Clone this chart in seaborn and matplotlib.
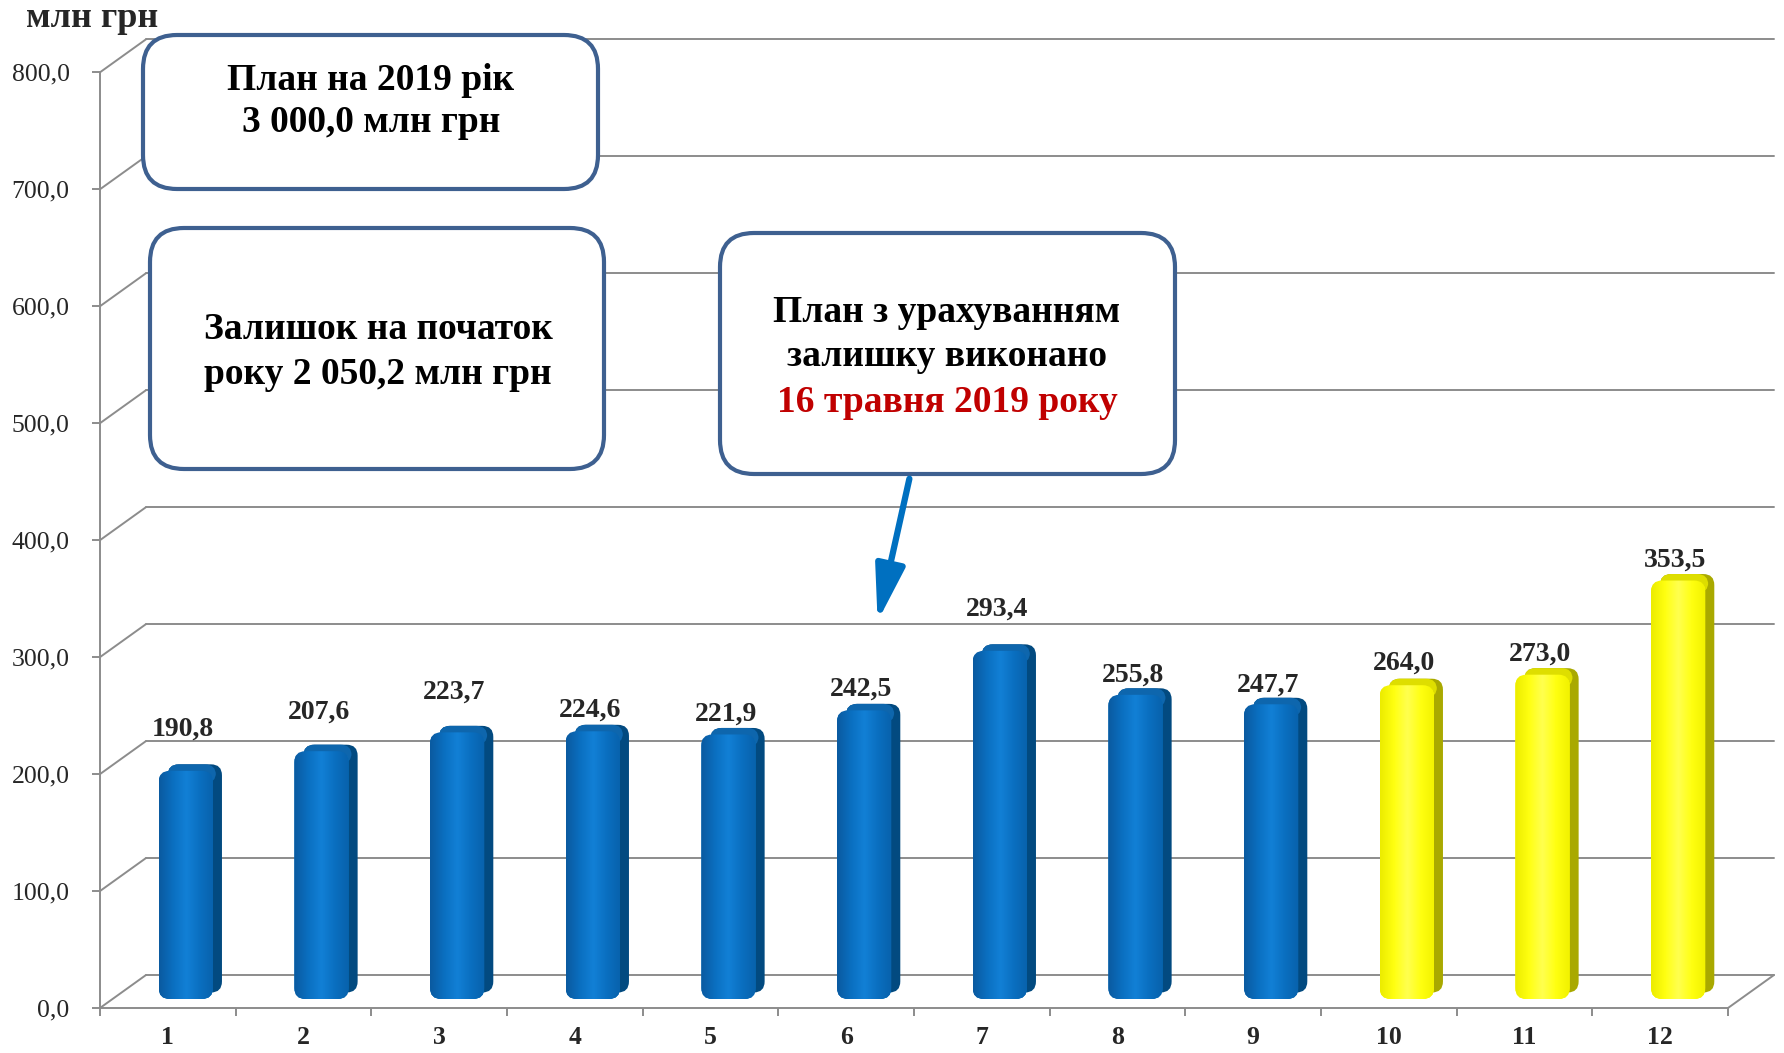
# Monthly revenue bar chart, 3D-like Excel look, built with seaborn + matplotlib
import matplotlib as mpl
import matplotlib.pyplot as plt
import matplotlib.transforms as mtransforms
from matplotlib.patches import FancyBboxPatch, FancyArrowPatch
from matplotlib.lines import Line2D
from matplotlib.colors import LinearSegmentedColormap
import numpy as np
import pandas as pd
import seaborn as sns

# Data
months = ['1', '2', '3', '4', '5', '6', '7', '8', '9', '10', '11', '12']
values = [190.8, 207.6, 223.7, 224.6, 221.9, 242.5, 293.4, 255.8, 247.7, 264.0, 273.0, 353.5]
kinds = ['fact'] * 9 + ['forecast'] * 3
yTicks = [0, 100, 200, 300, 400, 500, 600, 700, 800]
unitLabel = 'млн грн'
planLines = ['План на 2019 рік', '3 000,0 млн грн']
restLines = ['Залишок на початок', 'року 2 050,2 млн грн']
doneLines = ['План з урахуванням', 'залишку виконано']
doneDate = '16 травня 2019 року'

# Layout / style
labelLift = [40, 38, 39, 25, 25, 25, 40, 24, 24, 26, 25, 25]  # points above value
gridColor = '#8c8c8c'
boxEdge = '#3e6090'
W, H = 1784, 1053


def fmt(v):
    return ('%.1f' % v).replace('.', ',')


sns.set_style('white')
plt.rcParams['font.family'] = ['Liberation Serif', 'DejaVu Serif']

fig = plt.figure(figsize=(W / 100, H / 100), dpi=100)
ax = fig.add_axes([100 / W, 45 / H, 1628 / W, 935.7 / H])

df = pd.DataFrame({'month': months, 'value': values, 'kind': kinds})
sns.barplot(data=df, x='month', y='value', hue='kind', order=months,
            palette={'fact': '#0070C0', 'forecast': '#FFFF00'},
            dodge=False, width=0.4, saturation=1, legend=False, ax=ax, zorder=3)

ax.set_xlim(-0.5, 11.5)
ax.set_ylim(0, 800)
ax.set_autoscale_on(False)
ax.set_xlabel('')
ax.set_ylabel('')
sns.despine(ax=ax)
for s in ['left', 'bottom']:
    ax.spines[s].set_color(gridColor)
    ax.spines[s].set_linewidth(1.4)

ax.set_yticks(yTicks)
ax.set_yticklabels([fmt(v) for v in yTicks], fontsize=18.5)
ax.tick_params(axis='y', left=True, length=5.8, width=1.4, color=gridColor, pad=16)
ax.set_xticks(range(len(months)))
ax.set_xticklabels(months, fontsize=18.5, fontweight='bold')
ax.set_xticks(np.arange(-0.5, len(months), 1), minor=True)
ax.tick_params(axis='x', which='major', bottom=True, length=0, pad=13)
ax.tick_params(axis='x', which='minor', bottom=True, length=5.8, width=1.4, color=gridColor)

# 3D offsets (pixels at 100 dpi)
dpiTr = fig.dpi_scale_trans
backShift = ax.transData + mtransforms.ScaledTranslation(0.46, 0.33, dpiTr)
barShift = ax.transData + mtransforms.ScaledTranslation(0.18, 0.09, dpiTr)
ident = mtransforms.IdentityTransform()

# back wall gridlines and left wall / floor diagonals
for v in yTicks:
    ax.plot([-0.5, 11.5], [v, v], transform=backShift, color=gridColor, lw=1.4,
            zorder=1, clip_on=False)
    x0, y0 = ax.transData.transform((-0.5, v))
    fig.add_artist(Line2D([x0, x0 + 46], [y0, y0 + 33], transform=ident,
                          color=gridColor, lw=1.4))
x0, y0 = ax.transData.transform((11.5, 0))
fig.add_artist(Line2D([x0, x0 + 46], [y0, y0 + 33], transform=ident, color=gridColor, lw=1.4))

# 3D-looking bars: gradient front face, darker depth, lighter cap
cmaps = {
    'b': LinearSegmentedColormap.from_list('b', ['#0b5aa0', '#0a6fc0', '#1280d6', '#0a6fc0', '#0862ac']),
    'y': LinearSegmentedColormap.from_list('y', ['#ecec00', '#ffff10', '#ffff50', '#ffff10', '#f2f200']),
}
sideCol = {'b': '#024a80', 'y': '#a9a900'}
topCol = {'b': '#0e66ad', 'y': '#dede00'}
grad = np.linspace(0, 1, 64).reshape(1, -1)
dx, dy, cap, rnd = 9, 6.5, 5, 11
for bar in list(ax.patches):
    if bar.get_height() <= 0:
        continue
    key = 'b' if bar.get_facecolor()[2] > 0.5 else 'y'
    bar.set_transform(barShift)
    bar.set_edgecolor('none')
    bx, bw, bh = bar.get_x(), bar.get_width(), bar.get_height()
    (xl, yb), (xr, yt) = barShift.transform([(bx, 0), (bx + bw, bh)])
    back = FancyBboxPatch((xl + dx, yb + dy), xr - xl, yt - yb + cap,
                          boxstyle='round,pad=0,rounding_size=%d' % rnd, transform=ident,
                          fc=sideCol[key], ec='none', zorder=2.4, clip_on=False)
    ax.add_patch(back)
    top = FancyBboxPatch((xl + dx, yt - 14 + dy), xr - xl - 6, 14 + cap,
                         boxstyle='round,pad=0,rounding_size=%d' % rnd, transform=ident,
                         fc=topCol[key], ec='none', zorder=2.5, clip_on=False)
    ax.add_patch(top)
    front = FancyBboxPatch((xl, yb), xr - xl, yt - yb + cap,
                           boxstyle='round,pad=0,rounding_size=%d' % rnd, transform=ident)
    bar.set_clip_path(front)
    im = ax.imshow(grad, extent=(xl, xr, yb, yt + cap), transform=ident, cmap=cmaps[key],
                   aspect='auto', interpolation='bicubic', zorder=3.5)
    im.set_clip_path(front)
ax.set_xlim(-0.5, 11.5)
ax.set_ylim(0, 800)

# value labels
for i, (v, lift) in enumerate(zip(values, labelLift)):
    ax.annotate(fmt(v), (i, v), xytext=(11, lift), textcoords='offset points',
                ha='center', va='center', fontsize=20, fontweight='bold', zorder=6)

fig.text(26 / W, 1 - 27 / H, unitLabel, fontsize=26, fontweight='bold', ha='left', va='baseline')


# callout boxes (image pixel coords, origin top-left)
def callout(x0, y0, x1, y1):
    fig.add_artist(FancyBboxPatch((x0, H - y1), x1 - x0, y1 - y0,
                                  boxstyle='round,pad=0,rounding_size=34',
                                  transform=ident, fc='white', ec=boxEdge, lw=3, zorder=5))


def line(x, y, s, size, color='black'):
    fig.text(x / W, 1 - y / H, s, fontsize=size, fontweight='bold', ha='center', va='center',
             color=color, zorder=6)


callout(143, 35, 598, 189)
line(371, 80, planLines[0], 27)
line(371, 123, planLines[1], 27)

callout(150, 228, 604, 469)
line(378, 330, restLines[0], 27)
line(378, 375, restLines[1], 27)

callout(720, 233, 1175, 474)
line(947, 312, doneLines[0], 27)
line(947, 357, doneLines[1], 27)
line(947, 402, doneDate, 27, color='#c00000')

fig.add_artist(FancyArrowPatch((910, H - 476), (877, H - 624), transform=ident,
                               arrowstyle='-|>,head_length=0.75,head_width=0.2',
                               mutation_scale=45, color='#0070C0', lw=4.5, zorder=6))

fig.savefig('out.png', dpi=100)
